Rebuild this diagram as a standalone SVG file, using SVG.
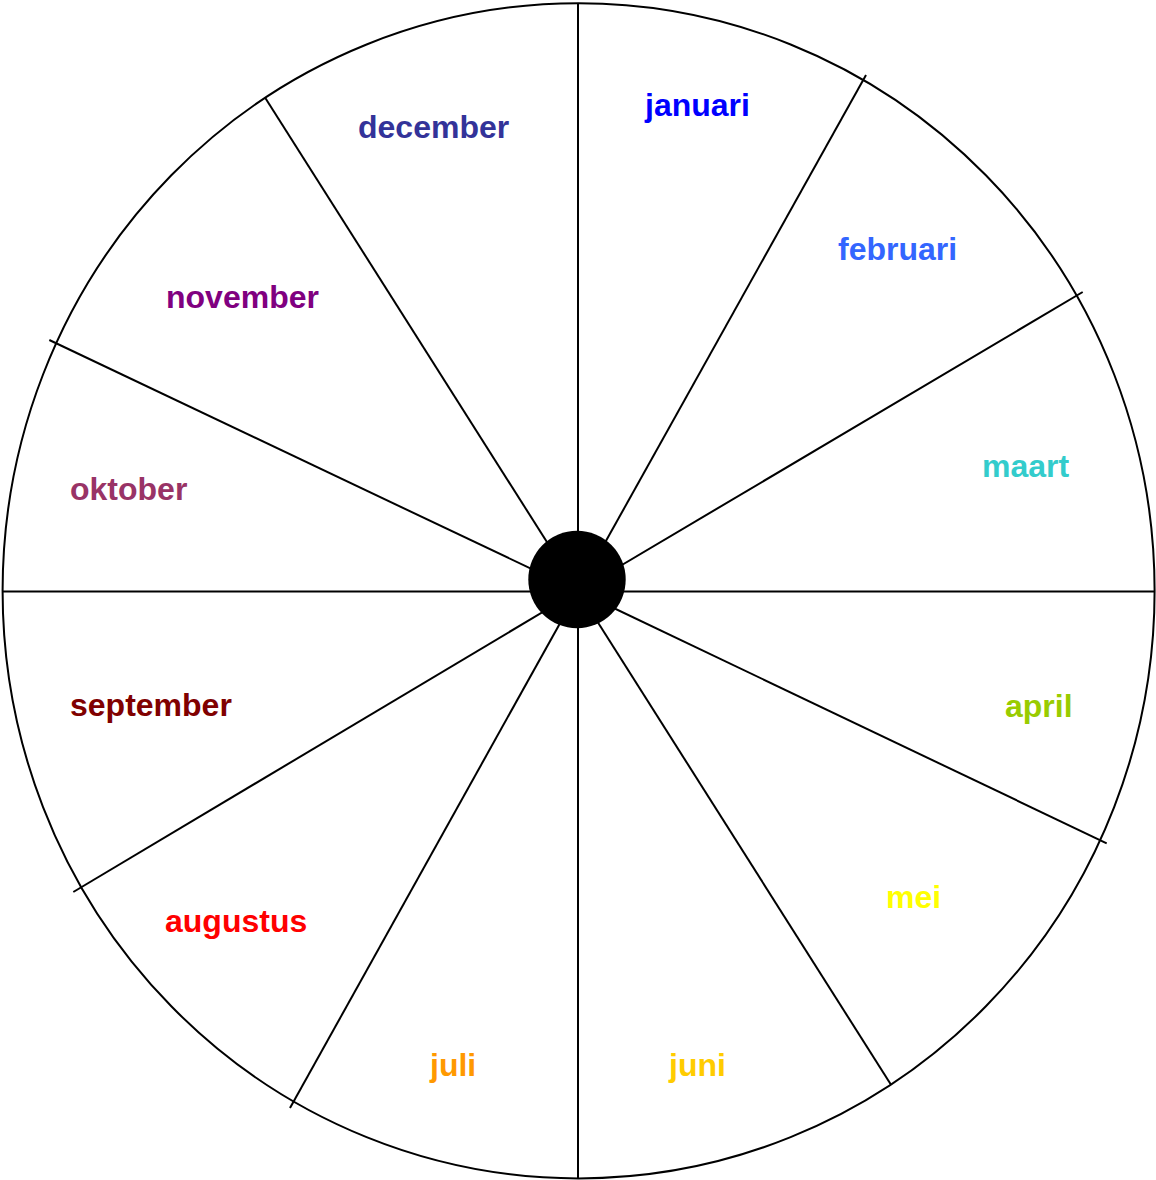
<svg xmlns="http://www.w3.org/2000/svg" width="1156" height="1180" viewBox="0 0 1156 1180">
<style>
.ln{stroke:#000;stroke-width:2;fill:none}
.lb{font-family:"Liberation Sans",Arial,sans-serif;font-weight:bold;font-size:32px}
</style>
<rect width="1156" height="1180" fill="#fff"/>
<g id="wheel">
<ellipse class="ln" cx="578.6" cy="590.8" rx="576" ry="587.6"/>
</g>
<g id="connectors">
<line class="ln" x1="578" y1="3" x2="578" y2="1178.5"/>
<line class="ln" x1="3" y1="591.5" x2="1155" y2="591.5"/>
<line class="ln" x1="578" y1="591" x2="866" y2="75"/>
<line class="ln" x1="578" y1="591" x2="1082.7" y2="292"/>
<line class="ln" x1="578" y1="591" x2="1106.7" y2="843.3"/>
<line class="ln" x1="578" y1="591" x2="890.7" y2="1084.3"/>
<line class="ln" x1="578" y1="591" x2="290" y2="1108"/>
<line class="ln" x1="578" y1="591" x2="73.3" y2="892"/>
<line class="ln" x1="578" y1="591" x2="49.3" y2="340"/>
<line class="ln" x1="578" y1="591" x2="265" y2="97.5"/>
</g>
<g id="hub"><circle cx="577" cy="579.5" r="48.7" fill="#000"/></g>
<g id="januari"><text class="lb" x="645" y="116" fill="#0000FF">januari</text></g>
<g id="februari"><text class="lb" x="838" y="260" fill="#3366FF">februari</text></g>
<g id="maart"><text class="lb" x="982" y="477" fill="#33CCCC">maart</text></g>
<g id="april"><text class="lb" x="1005" y="717" fill="#99CC00">april</text></g>
<g id="mei"><text class="lb" x="886" y="908" fill="#FFFF00">mei</text></g>
<g id="juni"><text class="lb" x="669" y="1076" fill="#FFCC00">juni</text></g>
<g id="juli"><text class="lb" x="430" y="1076" fill="#FF9900">juli</text></g>
<g id="augustus"><text class="lb" x="165" y="932" fill="#FF0000">augustus</text></g>
<g id="september"><text class="lb" x="70" y="716" fill="#800000">september</text></g>
<g id="oktober"><text class="lb" x="70" y="500" fill="#993366">oktober</text></g>
<g id="november"><text class="lb" x="166" y="308" fill="#800080">november</text></g>
<g id="december"><text class="lb" x="358" y="138" fill="#333399">december</text></g>
</svg>
